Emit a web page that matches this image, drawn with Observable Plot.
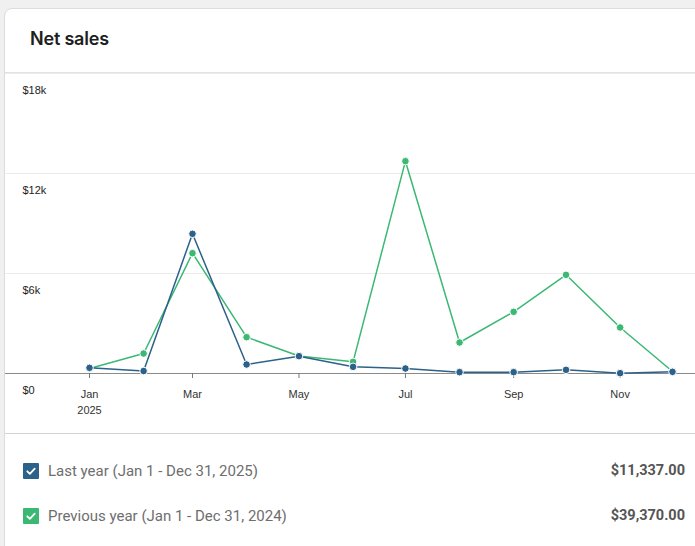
<!DOCTYPE html>
<html>
<head>
<meta charset="utf-8">
<script src="https://cdn.jsdelivr.net/npm/d3@7"></script>
<script src="https://cdn.jsdelivr.net/npm/@observablehq/plot@0.6"></script>
<style>
  html, body { margin: 0; padding: 0; background: #f0f0f0; width: 695px; height: 546px; overflow: hidden; }
  #card { position: absolute; left: 4px; top: 8px; width: 730px; height: 580px; background: #fff;
          border: 1px solid #dcdcdc; border-radius: 8px; box-sizing: border-box; }
  #title { position: absolute; left: 25px; top: 19px; font-family: Inter, "Noto Sans", sans-serif;
           font-weight: 600; font-size: 18px; color: #1e1e1e; letter-spacing: -0.2px; }
  #hdiv { position: absolute; left: 0; top: 63px; width: 100%; height: 1px; background: #e2e2e2; }
  #chart { position: absolute; left: 0; top: 64px; }
  #cdiv { position: absolute; left: 0; top: 424px; width: 100%; height: 1px; background: #d4d4d4; }
  .row { position: absolute; left: 18px; width: 662px; height: 20px; font-family: Roboto, sans-serif; font-size: 15px; }
  .box { position: absolute; left: 0; top: 2px; width: 16px; height: 16px; border-radius: 1px; }
  .lbl { position: absolute; left: 25px; top: 0; line-height: 20px; color: #6e6e6e; }
  .val { position: absolute; right: 0; top: 0; line-height: 20px; color: #555; font-weight: 700; font-size: 14.5px; }
</style>
</head>
<body>
<div id="card">
  <div id="title">Net sales</div>
  <div id="hdiv"></div>
  <div id="chart"></div>
  <div id="cdiv"></div>
  <div id="legend"></div>
</div>
<script>
const months = ["2025-01-01","2025-02-01","2025-03-01","2025-04-01","2025-05-01","2025-06-01",
                "2025-07-01","2025-08-01","2025-09-01","2025-10-01","2025-11-01","2025-12-01"];
const lastYear     = [340, 150, 8380, 540, 1040, 400, 300, 80, 80, 220, 20, 100];
const previousYear = [300, 1200, 7220, 2180, 1050, 700, 12740, 1860, 3700, 5920, 2760, 120];
const yTicks = [0, 6000, 12000, 18000];
const yTickLabels = ["$0", "$6k", "$12k", "$18k"];
const xTickMonths = ["2025-01-01","2025-03-01","2025-05-01","2025-07-01","2025-09-01","2025-11-01"];
const xTickLabels = ["Jan\n2025", "Mar", "May", "Jul", "Sep", "Nov"];
const seriesNames = ["Last year (Jan 1 - Dec 31, 2025)", "Previous year (Jan 1 - Dec 31, 2024)"];
const seriesTotals = ["$11,337.00", "$39,370.00"];
const blue = "#2c6189";
const green = "#3bb874";
const seriesColors = [blue, green];

const last = months.map((m, i) => ({date: new Date(m), value: lastYear[i]}));
const prev = months.map((m, i) => ({date: new Date(m), value: previousYear[i]}));
const xTickDates = xTickMonths.map(m => new Date(m));

const mL = 84, mR = 23;
const chart = Plot.plot({
  width: 690,
  height: 360,
  marginTop: 0,
  marginBottom: 60,
  marginLeft: mL,
  marginRight: mR,
  x: {type: "utc", domain: [new Date(months[0]), new Date(months[months.length - 1])]},
  y: {domain: [0, 18000], axis: null},
  style: {fontFamily: "'Liberation Sans', Arial, sans-serif", fontSize: "11px", color: "#333", background: "transparent", overflow: "visible"},
  marks: [
    Plot.ruleY(yTicks.filter(d => d > 0), {stroke: "#ececec", insetLeft: -mL, insetRight: -mR}),
    Plot.ruleY([0], {stroke: "#8a8a8a", insetLeft: -mL, insetRight: -mR}),
    Plot.axisX(xTickDates, {
      tickSize: 5, tickPadding: 8, stroke: "#777", fill: "#333", lineHeight: 1.45,
      tickFormat: d => xTickLabels[xTickDates.findIndex(t => +t === +d)]
    }),
    Plot.text(yTicks, {y: d => d, text: (d, i) => yTickLabels[i], frameAnchor: "left", textAnchor: "start", dx: -67, dy: 17, fill: "#222"}),
    Plot.line(prev, {x: "date", y: "value", stroke: green, strokeWidth: 1.5}),
    Plot.dot(prev, {x: "date", y: "value", r: 3.8, fill: green, stroke: "white", strokeWidth: 1}),
    Plot.line(last, {x: "date", y: "value", stroke: blue, strokeWidth: 1.5}),
    Plot.dot(last, {x: "date", y: "value", r: 3.8, fill: blue, stroke: "white", strokeWidth: 1})
  ]
});
document.getElementById("chart").appendChild(chart);

const legend = document.getElementById("legend");
const rowTops = [452, 497];
seriesNames.forEach((name, i) => {
  const row = document.createElement("div");
  row.className = "row";
  row.style.top = rowTops[i] + "px";
  row.innerHTML = `<div class="box" style="background:${seriesColors[i]}">
      <svg width="16" height="16" viewBox="0 0 16 16"><path d="M4.3 8.3 L6.9 10.8 L11.7 5.6" fill="none" stroke="#fff" stroke-width="1.8" stroke-linecap="round" stroke-linejoin="round"/></svg>
    </div><div class="lbl">${name}</div><div class="val">${seriesTotals[i]}</div>`;
  legend.appendChild(row);
});
</script>
</body>
</html>
